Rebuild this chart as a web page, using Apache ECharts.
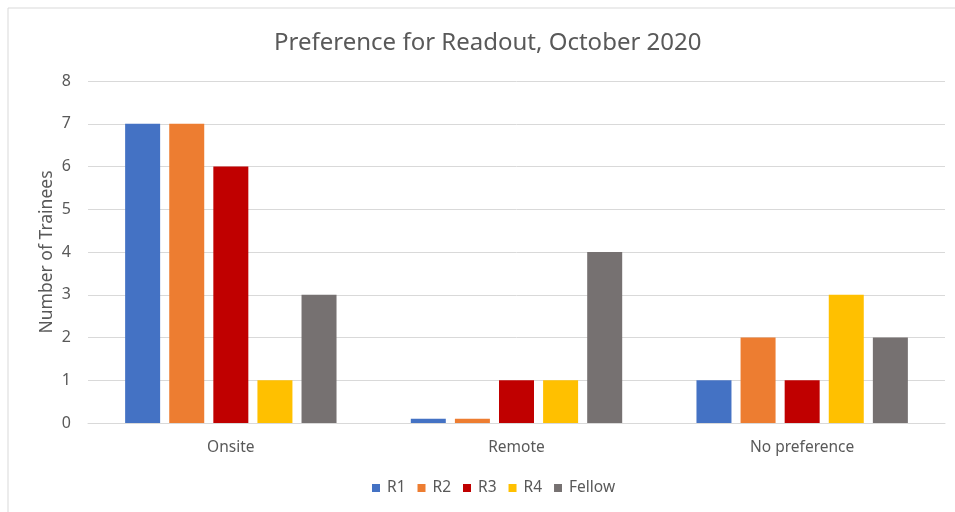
<!DOCTYPE html>
<html>
<head>
<meta charset="utf-8">
<script src="https://cdn.jsdelivr.net/npm/echarts@6/dist/echarts.min.js"></script>
<style>
  html, body { margin: 0; padding: 0; background: #fff; }
  #chart { width: 955px; height: 512px; }
</style>
</head>
<body>
<div id="chart"></div>
<script>
// Survey responses by trainee level
const categories = ['Onsite', 'Remote', 'No preference'];
const r1 = [7, 0.1, 1];
const r2 = [7, 0.1, 2];
const r3 = [6, 1, 1];
const r4 = [1, 1, 3];
const fellow = [3, 4, 2];
const yTicks = [0, 1, 2, 3, 4, 5, 6, 7, 8];

const seriesDefs = [
  { name: 'R1', data: r1, color: '#4472C4' },
  { name: 'R2', data: r2, color: '#ED7D31' },
  { name: 'R3', data: r3, color: '#C00000' },
  { name: 'R4', data: r4, color: '#FFC000' },
  { name: 'Fellow', data: fellow, color: '#767171' }
];

const font = 'Noto Sans';
const textColor = '#595959';
const chart = echarts.init(document.getElementById('chart'));
chart.setOption({
  animation: false,
  title: {
    text: 'Preference for Readout, October 2020',
    left: 269,
    top: 26,
    textStyle: { fontFamily: font, fontSize: 24, fontWeight: 'normal', color: textColor }
  },
  graphic: [{
    type: 'polyline',
    shape: { points: [[8, 520], [8, 8], [960, 8]] },
    style: { stroke: '#d9d9d9', lineWidth: 1, fill: null },
    silent: true
  }],
  legend: {
    top: 475,
    left: 367,
    itemWidth: 8,
    itemHeight: 8,
    itemGap: 12,
    icon: 'rect',
    textStyle: { fontFamily: font, fontSize: 15.5, color: textColor, padding: [0, 0, 0, 2] }
  },
  grid: { left: 88, right: 10, top: 81, bottom: 89 },
  xAxis: {
    type: 'category',
    data: categories,
    axisTick: { show: false },
    axisLine: { lineStyle: { color: '#d9d9d9', width: 1 } },
    axisLabel: { fontFamily: font, fontSize: 15.5, color: textColor, margin: 17 }
  },
  yAxis: {
    type: 'value',
    min: yTicks[0],
    max: yTicks[yTicks.length - 1],
    interval: 1,
    name: 'Number of Trainees',
    nameLocation: 'middle',
    nameGap: 32,
    nameMoveOverlap: false,
    nameTextStyle: { fontFamily: font, fontSize: 17.5, color: textColor },
    axisLine: { show: false },
    axisTick: { show: false },
    splitLine: { lineStyle: { color: '#d9d9d9', width: 1 } },
    axisLabel: { fontFamily: font, fontSize: 16, color: textColor, margin: 17 }
  },
  series: seriesDefs.map(s => ({
    name: s.name,
    type: 'bar',
    data: s.data,
    barGap: '26%',
    barCategoryGap: '26%',
    itemStyle: { color: s.color }
  }))
});
</script>
</body>
</html>
